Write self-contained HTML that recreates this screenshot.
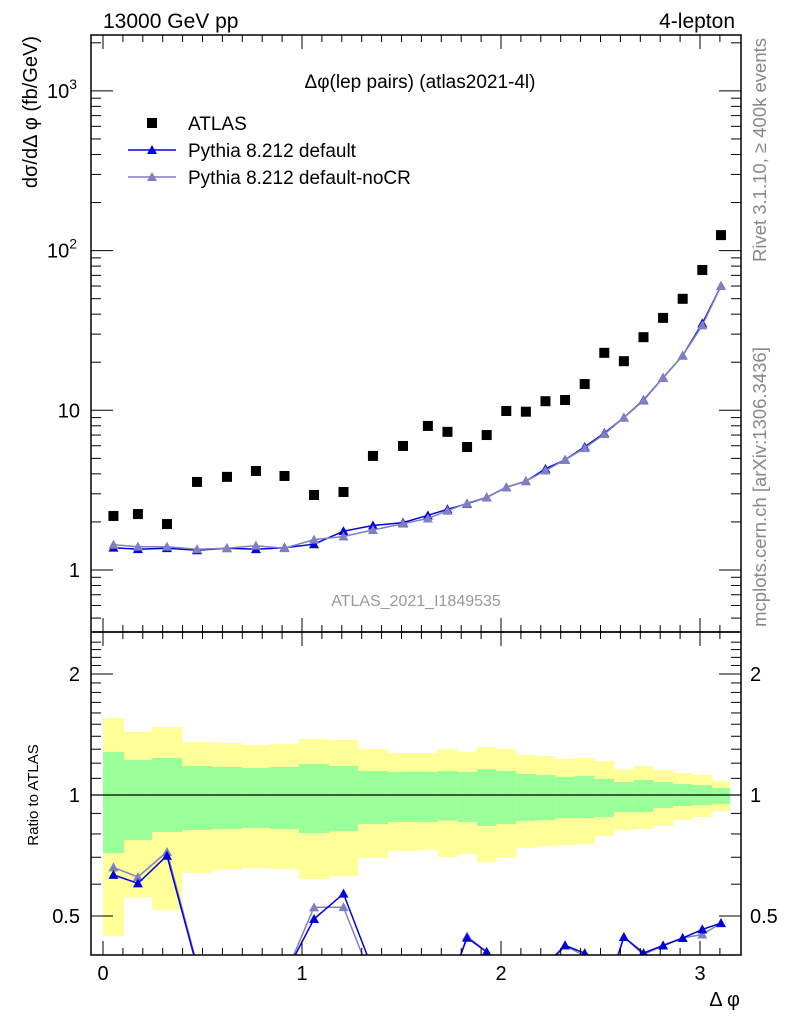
<!DOCTYPE html>
<html><head><meta charset="utf-8"><style>
html,body{margin:0;padding:0;background:#fff}
svg{display:block;font-family:"Liberation Sans",sans-serif}
</style></head><body>
<svg id="c" width="786" height="1024" viewBox="0 0 786 1024"></svg>
<script>
const edges=[0,0.105,0.246,0.397,0.548,0.698,0.839,0.985,1.136,1.281,1.432,1.583,1.682,1.780,1.879,1.977,2.076,2.174,2.273,2.371,2.470,2.568,2.667,2.765,2.864,2.962,3.061,3.150];
const atlas=[2.18,2.24,1.94,3.56,3.83,4.17,3.88,2.95,3.08,5.18,5.98,7.98,7.33,5.89,7.0,9.9,9.8,11.4,11.6,14.6,22.9,20.3,28.7,37.9,49.9,75.6,125];
const pyDefault=[1.38,1.35,1.37,1.33,1.37,1.35,1.38,1.45,1.75,1.9,1.98,2.2,2.4,2.6,2.85,3.3,3.6,4.3,4.9,5.9,7.2,9.0,11.6,16,22,35,60];
const pyNoCR=[1.44,1.40,1.40,1.35,1.37,1.42,1.37,1.55,1.62,1.78,1.95,2.1,2.35,2.62,2.85,3.3,3.6,4.2,4.9,5.8,7.1,9.0,11.5,16,22,34,60];
const yelUp=[1.554,1.435,1.476,1.355,1.347,1.332,1.34,1.378,1.37,1.301,1.272,1.272,1.301,1.28,1.317,1.301,1.258,1.25,1.229,1.236,1.215,1.16,1.181,1.154,1.134,1.121,1.083];
const grnUp=[1.28,1.222,1.236,1.181,1.174,1.167,1.174,1.194,1.181,1.147,1.141,1.141,1.147,1.141,1.16,1.147,1.128,1.121,1.109,1.115,1.096,1.077,1.09,1.077,1.065,1.059,1.041];
const grnDn=[0.717,0.773,0.809,0.818,0.823,0.828,0.823,0.804,0.813,0.847,0.857,0.857,0.864,0.857,0.837,0.847,0.862,0.866,0.876,0.876,0.882,0.907,0.907,0.928,0.939,0.944,0.95];
const yelDn=[0.446,0.557,0.518,0.64,0.651,0.658,0.654,0.618,0.628,0.697,0.726,0.73,0.70,0.713,0.681,0.70,0.738,0.746,0.75,0.754,0.791,0.818,0.823,0.837,0.866,0.882,0.912];
const xTicks=[0,1,2,3];
const yTicks=[[1000,'10','3'],[100,'10','2'],[10,'10',''],[1,'1','']];
const rTicks=[2,1,0.5];

const S=document.getElementById('c');const NS='http://www.w3.org/2000/svg';
function el(t,a,p){const e=document.createElementNS(NS,t);for(const k in a)e.setAttribute(k,a[k]);(p||S).appendChild(e);return e;}
const L=91,R=741,T=35,M=632,B=955;
const X=v=>103+v*199;
const Y=v=>570-Math.log10(v)*159.7;
const RY=v=>795-Math.log2(v)*121;
const cx=i=>(edges[i]+edges[i+1])/2;

const defs=el('defs',{});
const cp=el('clipPath',{id:'rc'},defs);el('rect',{x:L,y:M,width:R-L,height:B-M},cp);
const cp2=el('clipPath',{id:'mc'},defs);el('rect',{x:L,y:T,width:R-L,height:M-T},cp2);

const gb=el('g',{'clip-path':'url(#rc)'});

for(let i=0;i<atlas.length;i++){
 const x0=X(edges[i]),w=X(edges[i+1])-x0+0.3;
 const y=el('rect',{x:x0,y:RY(yelUp[i]),width:w,height:RY(yelDn[i])-RY(yelUp[i]),fill:'#ffff99'},gb);
 
 const g=el('rect',{x:x0,y:RY(grnUp[i]),width:w,height:RY(grnDn[i])-RY(grnUp[i]),fill:'#99ff99'},gb);
 
}
el('line',{x1:L,x2:R,y1:RY(1),y2:RY(1),stroke:'#000','stroke-width':1.2});

function tri(g,x,y,c){el('path',{d:`M${x-5},${y+4}L${x+5},${y+4}L${x},${y-5}Z`,fill:c},g);}
function series(vals,col,name,ratio){
 const g=el('g',{'clip-path':ratio?'url(#rc)':'url(#mc)'});
 
 const f=i=>ratio?RY(vals[i]/atlas[i]):Y(vals[i]);
 let d='';for(let i=0;i<vals.length;i++)d+=(i?'L':'M')+X(cx(i)).toFixed(1)+','+f(i).toFixed(1);
 el('path',{d,fill:'none',stroke:col,'stroke-width':1.5},g);
 for(let i=0;i<vals.length;i++){tri(g,X(cx(i)),f(i),col);}
}
series(pyNoCR,'#8080c0','pythia-nocr-ratio',true);
series(pyDefault,'#0000dd','pythia-default-ratio',true);
series(pyDefault,'#0000dd','pythia-default-line',false);
series(pyNoCR,'#8080c0','pythia-nocr-line',false);
const ga=el('g',{});
atlas.forEach((v,i)=>{const r=el('rect',{x:X(cx(i))-5,y:Y(v)-5,width:10,height:10,fill:'#000'},ga);
 });

el('rect',{x:L,y:T,width:R-L,height:M-T,fill:'none',stroke:'#000','stroke-width':1.5});
el('rect',{x:L,y:M,width:R-L,height:B-M,fill:'none',stroke:'#000','stroke-width':1.5});
for(let v=0;v<=3.2;v+=0.1){const x=X(v);if(x<L||x>R)continue;const maj=Math.abs(v-Math.round(v))<1e-6;const l=maj?14:7;
 [[T,1],[M,-1],[M,1],[B,-1]].forEach(([y,s])=>el('line',{x1:x,x2:x,y1:y,y2:y+s*l,stroke:'#000'}));}
xTicks.forEach(v=>{const t=el('text',{x:X(v),y:980,'font-size':20,'text-anchor':'middle'});t.textContent=v;
 });
for(let e=-1;e<=3;e++)for(let m=1;m<10;m++){const v=m*Math.pow(10,e);const y=Y(v);if(y<T||y>M)continue;const l=m==1?22:10;
 el('line',{x1:L,x2:L+l,y1:y,y2:y,stroke:'#000'});el('line',{x1:R,x2:R-l,y1:y,y2:y,stroke:'#000'});}
yTicks.forEach(([v,b,s])=>{const t=el('text',{x:s?77:80,y:Y(v)+7,'font-size':20,'text-anchor':'end'});t.textContent=b;
 if(s){const u=el('tspan',{dy:-9,'font-size':14},t);u.textContent=s;}
 });
for(let v=0.4;v<=2.5;v+=0.1){const y=RY(v);if(y<M||y>B)continue;const maj=rTicks.some(r=>Math.abs(r-v)<1e-6);const l=maj?22:10;
 el('line',{x1:L,x2:L+l,y1:y,y2:y,stroke:'#000'});el('line',{x1:R,x2:R-l,y1:y,y2:y,stroke:'#000'});}
rTicks.forEach(v=>{[[80,'end'],[750,'start']].forEach(([x,a])=>{const t=el('text',{x,y:RY(v)+7,'font-size':20,'text-anchor':a});t.textContent=v;
 });});

function txt(x,y,s,str,name,extra){const t=el('text',Object.assign({x,y,'font-size':s},extra||{}));t.textContent=str;
 return t;}
txt(103,28,21,'13000 GeV pp','energy-label');
txt(735,28,21,'4-lepton','process-label',{'text-anchor':'end'});
txt(420,88,19,'Δφ(lep pairs) (atlas2021-4l)','plot-title',{'text-anchor':'middle'});
txt(416,606,16,'ATLAS_2021_I1849535','analysis-id',{'text-anchor':'middle',fill:'#999'});
txt(0,0,20,'dσ/dΔ φ (fb/GeV)','y-axis-title',{transform:'translate(37,36) rotate(-90)','text-anchor':'end'});
txt(0,0,15,'Ratio to ATLAS','ratio-axis-title',{transform:'translate(38,795) rotate(-90)','text-anchor':'middle'});
txt(740,1006,20,'Δ φ','x-axis-title',{'text-anchor':'end'});
txt(0,0,18.5,'Rivet 3.1.10, ≥ 400k events','rivet-label',{transform:'translate(766,150) rotate(-90)','text-anchor':'middle',fill:'#888'});
txt(0,0,18.5,'mcplots.cern.ch [arXiv:1306.3436]','mcplots-label',{transform:'translate(766,487) rotate(-90)','text-anchor':'middle',fill:'#888'});
const lg=el('g',{});
el('rect',{x:147,y:118,width:10,height:10,fill:'#000'},lg);
txt(188,130,19,'ATLAS','legend-atlas');
el('line',{x1:128,x2:176,y1:150,y2:150,stroke:'#0000dd','stroke-width':1.5},lg);tri(lg,152,150,'#0000dd');
txt(188,157,19,'Pythia 8.212 default','legend-pythia-default');
el('line',{x1:128,x2:176,y1:177,y2:177,stroke:'#8080c0','stroke-width':1.5},lg);tri(lg,152,177,'#8080c0');
txt(188,184,19,'Pythia 8.212 default-noCR','legend-pythia-nocr');
</script>
</body></html>
